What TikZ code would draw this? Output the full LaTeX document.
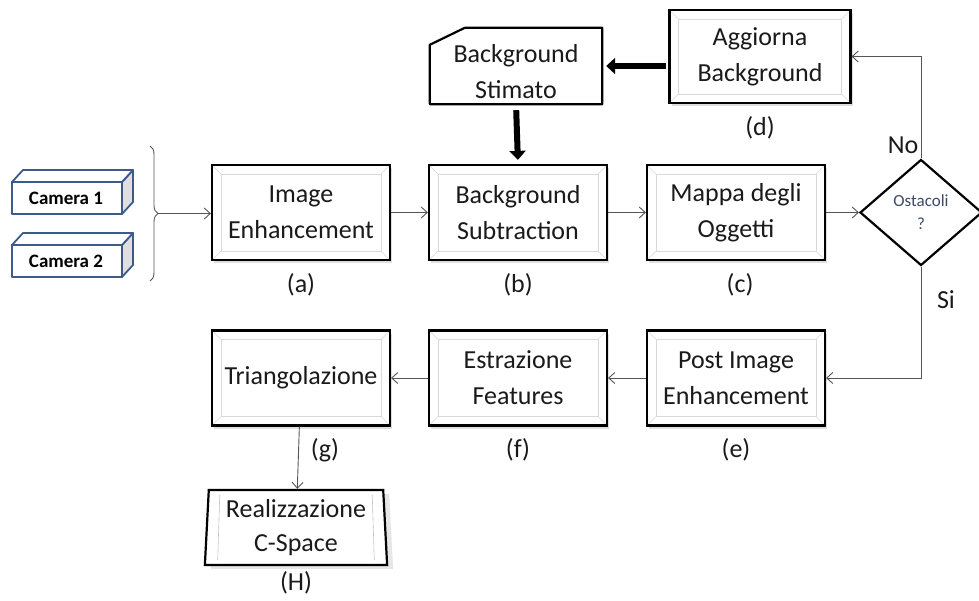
\documentclass[tikz,border=0pt]{standalone}
\usepackage{fontspec}
\setmainfont{Carlito}
\usetikzlibrary{shapes.geometric,arrows.meta,shadows,decorations.pathreplacing}
\definecolor{camblue}{HTML}{3C5A8C}
\definecolor{txt}{HTML}{1A1A1A}
\definecolor{linegray}{HTML}{555555}
\definecolor{decblue}{HTML}{3A4A68}
\tikzset{
  stepbox/.style={draw, line width=2.2pt, fill=white, minimum width=178pt, minimum height=95pt,
    align=center, text=txt, font=\fontsize{26}{36}\selectfont,
    drop shadow={shadow xshift=2pt, shadow yshift=-3pt, opacity=0.25},
    path picture={
      \draw[gray!30, line width=0.6pt]
        ([shift={(9pt,-9pt)}]path picture bounding box.north west) rectangle
        ([shift={(-9pt,9pt)}]path picture bounding box.south east);
      \draw[gray!30, line width=0.6pt]
        (path picture bounding box.north west) -- ++(9pt,-9pt)
        (path picture bounding box.north east) -- ++(-9pt,-9pt)
        (path picture bounding box.south west) -- ++(9pt,9pt)
        (path picture bounding box.south east) -- ++(-9pt,9pt);
    }},
  lbl/.style={font=\fontsize{26}{30}\selectfont, text=txt},
  flow/.style={draw=linegray, line width=0.9pt, -{Straight Barb[length=6pt,width=11pt]}},
  fatflow/.style={line width=6pt, -{Triangle[length=9pt,width=16pt]}},
  camface/.style={draw=camblue, line width=1.8pt, line join=round},
}
\begin{document}
\begin{tikzpicture}[x=1pt,y=-1pt]
\useasboundingbox (0,0) rectangle (979,601);
% telecamere
\foreach \y/\n in {182/1,245/2}{
  \draw[camface, fill=gray!25] (122,\y) -- (133,\y-12) -- (133,\y+20) -- (122,\y+32) -- cycle;
  \draw[camface, fill=white] (12,\y) -- (23,\y-12) -- (133,\y-12) -- (122,\y) -- cycle;
  \draw[camface, fill=white] (12,\y) rectangle (122,\y+32);
  \node[font=\fontsize{19}{22}\selectfont\bfseries] (cam\n) at (66,\y+16) {Camera \n};
}
\draw[linegray, line width=0.9pt, decorate, decoration={brace, amplitude=8pt}] (150,146) -- (150,281);
\coordinate (camtip) at (158,213.5);
% riga superiore
\node[stepbox] (ie) at (301,212.5) {Image\\Enhancement};
\node[stepbox] (bs) at (518,212.5) {Background\\Subtraction};
\node[stepbox] (mo) at (736,212.5) {Mappa degli\\Oggetti};
\node[stepbox, minimum width=181pt, minimum height=93pt] (agg) at (760,56.5) {Aggiorna\\Background};
\node[minimum width=172pt, minimum height=76pt] (stim) at (516,66) {};
\draw[line width=2.2pt, line join=round] (stim.south west) -- ([yshift=-17pt]stim.north west)
  -- ([xshift=35pt]stim.north west) -- (stim.north east) -- (stim.south east) -- cycle;
\node[align=center, text=txt, font=\fontsize{26}{36}\selectfont] (stimtxt) at (516,72) {Background\\Stimato};
\node[diamond, draw, line width=2.2pt, minimum width=122pt, minimum height=106pt, inner sep=0pt,
  align=center, text=decblue, font=\fontsize{17}{23}\selectfont] (obst) at (921,212.5) {Ostacoli\\?};
% riga inferiore
\node[stepbox] (post) at (736,378) {Post Image\\Enhancement};
\node[stepbox] (estr) at (518,378) {Estrazione\\Features};
\node[stepbox] (tri) at (301,378) {Triangolazione};
\node[trapezium, trapezium left angle=87, trapezium right angle=87, draw, line width=2.2pt,
  fill=white, minimum width=170pt, minimum height=75pt, align=center, text=txt,
  font=\fontsize{26}{34}\selectfont,
  drop shadow={shadow xshift=6pt, shadow yshift=-4pt, opacity=0.2}] (real) at (296,527.5) {Realizzazione\\C-Space};
\draw[gray!45, line width=0.6pt] ([shift={(12pt,-6pt)}]real.top left corner) -- ([shift={(14pt,6pt)}]real.bottom left corner)
  ([shift={(-12pt,-6pt)}]real.top right corner) -- ([shift={(-14pt,6pt)}]real.bottom right corner);
% etichette
\node[lbl] (la) at (301,285) {(a)};
\node[lbl] (lb) at (518,285) {(b)};
\node[lbl] (lc) at (740,285) {(c)};
\node[lbl] (ld) at (760,128) {(d)};
\node[lbl] (le) at (736,450) {(e)};
\node[lbl] (lf) at (518,450) {(f)};
\node[lbl] (lg) at (325,450) {(g)};
\node[lbl] (lh) at (296,583) {(H)};
\node[lbl] (lno) at (903,145) {No};
\node[lbl] (lsi) at (946,300) {Si};
% collegamenti
\draw[flow] (camtip) -- (camtip -| ie.west);
\draw[flow] (ie) -- (bs);
\draw[flow] (bs) -- (mo);
\draw[flow] (mo) -- (obst);
\draw[flow] (obst.north) |- (agg.east);
\draw[flow] (obst.south) |- (post.east);
\draw[flow] (post) -- (estr);
\draw[flow] (estr) -- (tri);
\draw[flow] (tri) -- (real);
\draw[fatflow, shorten <=2pt, shorten >=4pt] (agg.west |- stim.east) -- (stim.east);
\draw[fatflow, shorten <=6pt, shorten >=4pt] (stim.south) -- (bs.north);
\end{tikzpicture}
\end{document}
